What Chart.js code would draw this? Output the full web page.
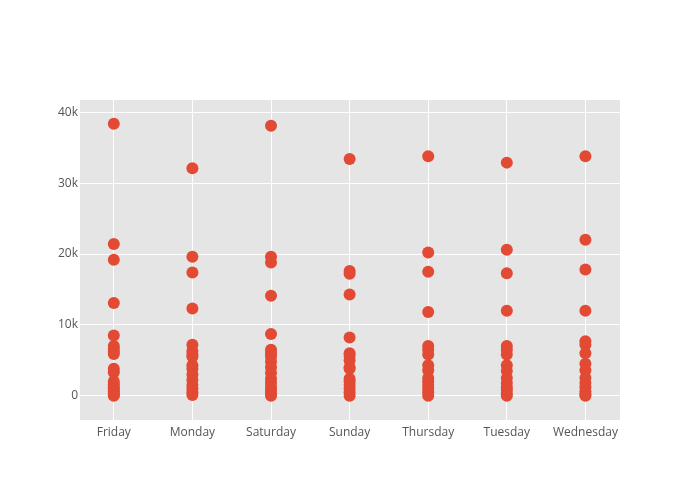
<!DOCTYPE html>
<html>
<head>
<meta charset="utf-8">
<script src="https://cdn.jsdelivr.net/npm/chart.js@4"></script>
<style>
  html, body { margin: 0; padding: 0; background: #fff; }
  #wrap { width: 700px; height: 500px; }
</style>
</head>
<body>
<div id="wrap"><canvas id="chart" width="700" height="500"></canvas></div>
<script>
// categories (x axis)
const days = ["Friday", "Monday", "Saturday", "Sunday", "Thursday", "Tuesday", "Wednesday"];

// values per day
const friday    = [38400, 21400, 19200, 13100, 8500, 7000, 6600, 6200, 5900, 3800, 3300, 2000, 1600, 1200, 900, 600, 300, 100, 0];
const monday    = [32100, 19600, 17400, 12300, 7200, 6300, 5800, 5500, 4300, 3800, 3000, 2200, 1500, 1000, 500, 100];
const saturday  = [38100, 19600, 18800, 14100, 8700, 6500, 6000, 5500, 4800, 4000, 3200, 2400, 1800, 1200, 700, 300, 0];
const sunday    = [33400, 17600, 17200, 14300, 8200, 6000, 5600, 5000, 4000, 3800, 2400, 2000, 1500, 1000, 500, 0];
const thursday  = [33800, 20200, 17500, 11800, 7000, 6500, 5800, 4300, 3600, 2500, 2000, 1500, 1000, 500, 0];
const tuesday   = [32900, 20600, 17300, 12000, 7000, 6500, 5800, 4300, 3500, 2500, 1800, 1200, 800, 300, 0];
const wednesday = [33800, 22000, 17800, 12000, 7700, 7200, 6000, 4500, 3600, 2500, 1800, 1200, 600, 200, 0];

const yTicks = [0, 10000, 20000, 30000, 40000];

const series = [friday, monday, saturday, sunday, thursday, tuesday, wednesday];
const points = [];
series.forEach((vals, i) => vals.forEach(v => points.push({ x: i, y: v })));

// grey plot background like the reference
const plotBg = {
  id: "plotBg",
  beforeDraw(chart) {
    const a = chart.chartArea;
    const ctx = chart.ctx;
    ctx.save();
    ctx.fillStyle = "#e5e5e5";
    ctx.fillRect(a.left, a.top, a.right - a.left, a.bottom - a.top);
    ctx.restore();
  }
};

const tickFont = { family: "'Open Sans', sans-serif", size: 12 };

new Chart(document.getElementById("chart"), {
  type: "scatter",
  data: {
    datasets: [{
      data: points,
      backgroundColor: "#e24a33",
      borderColor: "#e24a33",
      borderWidth: 0,
      pointRadius: 6,
      pointHoverRadius: 6
    }]
  },
  options: {
    responsive: false,
    animation: false,
    events: [],
    layout: { padding: { top: 100, right: 80, left: 0, bottom: 0 } },
    plugins: { legend: { display: false }, tooltip: { enabled: false } },
    scales: {
      x: {
        type: "linear",
        min: -0.43,
        max: 6.44,
        afterBuildTicks: s => { s.ticks = days.map((d, i) => ({ value: i })); },
        afterFit: s => { s.height = 80; },
        ticks: {
          color: "#555",
          font: tickFont,
          padding: 5,
          autoSkip: false,
          maxRotation: 0,
          callback: v => days[v]
        },
        grid: { color: "#ffffff", lineWidth: 1, drawTicks: false },
        border: { display: false }
      },
      y: {
        min: -3430,
        max: 41740,
        afterBuildTicks: s => { s.ticks = yTicks.map(v => ({ value: v })); },
        afterFit: s => { s.width = 80; },
        ticks: {
          color: "#555",
          font: tickFont,
          padding: 2,
          callback: v => v === 0 ? "0" : (v / 1000) + "k"
        },
        grid: { color: "#ffffff", lineWidth: 1, drawTicks: false },
        border: { display: false }
      }
    }
  },
  plugins: [plotBg]
});
</script>
</body>
</html>
